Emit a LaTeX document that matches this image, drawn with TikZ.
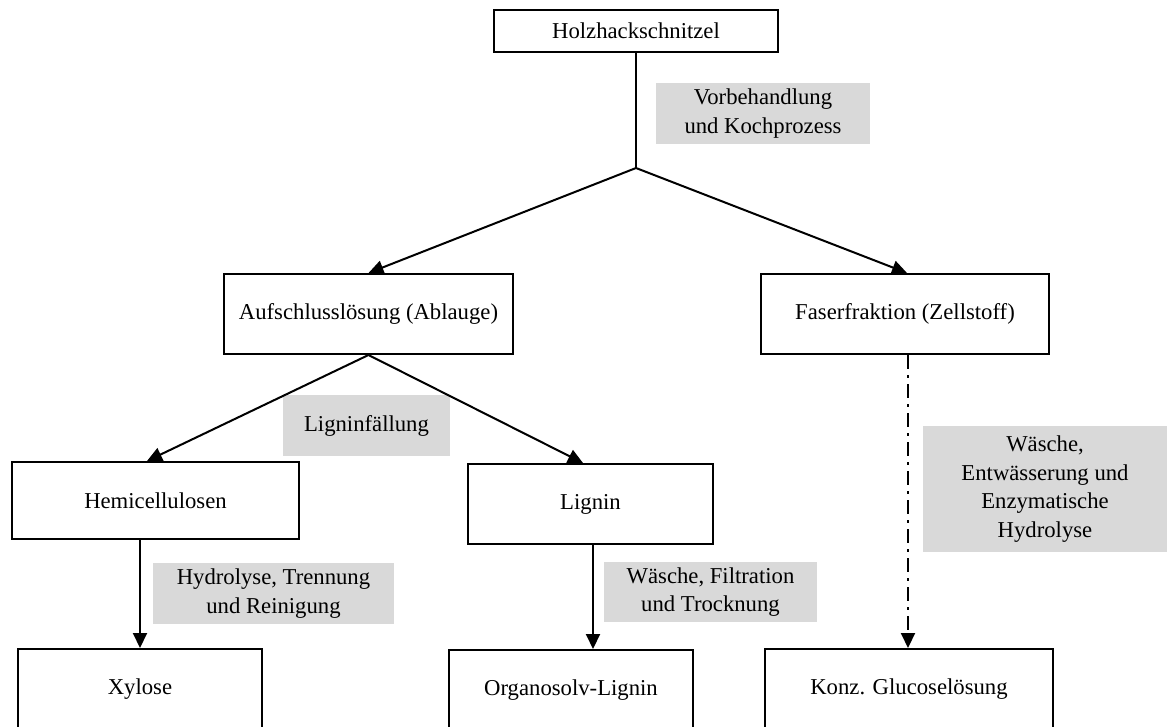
\documentclass[tikz,border=0pt]{standalone}
\usepackage{fontspec}
\setmainfont{Liberation Serif}
\usetikzlibrary{arrows.meta}
\definecolor{labelgray}{RGB}{217,217,217}
\tikzset{
  txt/.style={font=\fontsize{22.7}{28.7}\selectfont, align=center, inner sep=0pt},
  box/.style={txt, draw=black, line width=2pt, fill=white},
  lbl/.style={txt, fill=labelgray},
  conn/.style={line width=2pt, -{Triangle[length=15pt,width=14pt]}},
  plain/.style={line width=2pt},
  dashdot/.style={conn, dash pattern=on 14pt off 6pt on 3pt off 6pt}
}
\begin{document}
\begin{tikzpicture}[x=1pt,y=-1pt]
\useasboundingbox (0,0) rectangle (1167,726);
\clip (0,0) rectangle (1167,726);
% boxes
\node[box, minimum width=284pt, minimum height=42pt] (holz) at (636,31) {Holzhackschnitzel};
\node[box, minimum width=289pt, minimum height=80pt] (auf) at (368.5,314) {Aufschlusslösung (Ablauge)};
\node[box, minimum width=288pt, minimum height=80pt] (faser) at (905,314) {Faserfraktion (Zellstoff)};
\node[box, minimum width=287pt, minimum height=77pt] (hemi) at (155.5,500.5) {Hemicellulosen};
\node[box, minimum width=245pt, minimum height=80pt] (lig) at (590.5,504) {Lignin};
\node[box, minimum width=244pt, minimum height=80pt] (xyl) at (140,689) {Xylose};
\node[box, minimum width=244pt, minimum height=80pt] (org) at (571,690) {Organosolv-Lignin};
\node[box, minimum width=288pt, minimum height=80pt] (konz) at (909,689) {Konz. Glucoselösung};
% labels
\node[lbl, minimum width=214pt, minimum height=61pt] (l1) at (763,113.5) {Vorbehandlung\\und Kochprozess};
\node[lbl, minimum width=167pt, minimum height=61pt] (l2) at (366.5,425.5) {Ligninfällung};
\node[lbl, minimum width=241pt, minimum height=61pt] (l3) at (273.5,593.5) {Hydrolyse, Trennung\\und Reinigung};
\node[lbl, minimum width=213pt, minimum height=60pt] (l4) at (710.5,592) {Wäsche, Filtration\\und Trocknung};
\node[lbl, minimum width=244pt, minimum height=126pt] (l5) at (1045,489) {Wäsche,\\Entwässerung und\\Enzymatische\\Hydrolyse};
% connectors
\coordinate (branch) at (636,168);
\draw[plain] (holz.south) -- (branch);
\draw[conn] (branch) -- (auf.north);
\draw[conn] (branch) -- ([xshift=2pt]faser.north);
\draw[conn] (auf.south) -- ([xshift=-8.5pt]hemi.north);
\draw[conn] (auf.south) -- ([xshift=-7.5pt]lig.north);
\draw[conn] (xyl.north |- hemi.south) -- (xyl.north);
\draw[conn] ([xshift=2.5pt]lig.south) -- ([xshift=2.5pt]lig.south |- org.north);
\draw[dashdot] ([xshift=-1pt]konz.north |- faser.south) -- ([xshift=-1pt]konz.north);
\end{tikzpicture}
\end{document}
